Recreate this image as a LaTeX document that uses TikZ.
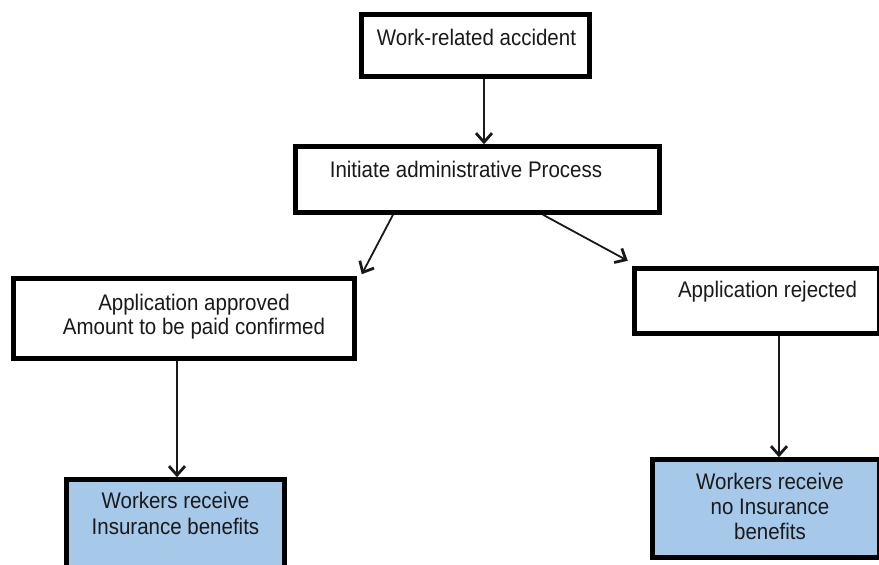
\documentclass[tikz,border=0pt]{standalone}
\usepackage{fontspec}
\setmainfont{Liberation Sans}
\usetikzlibrary{arrows.meta}
\definecolor{boxblue}{HTML}{A6C8E9}
\definecolor{txtgray}{HTML}{1A1A1A}
\newcommand{\tallt}[1]{\scalebox{1}[1.1]{#1}}
\tikzset{
  box/.style={draw=black, line width=4.5pt, fill=white, rectangle, inner sep=0pt},
  bluebox/.style={box, fill=boxblue},
  txt/.style={anchor=base, inner sep=0pt, text=txtgray, font=\fontsize{20.5}{24}\selectfont},
  arr/.style={draw=black!90, line width=1.8pt, -{Straight Barb[length=9pt,width=16pt,line width=2.8pt]}}
}
\begin{document}
\begin{tikzpicture}[x=1pt,y=-1pt]
\useasboundingbox (0,0) rectangle (879,565);
\fill[white] (0,0) rectangle (879,565);
% boxes
\node[box, minimum width=228pt, minimum height=62pt] (b1) at (475.5,45.5) {};
\node[box, minimum width=364pt, minimum height=66pt] (b2) at (477.5,179.5) {};
\node[box, minimum width=341pt, minimum height=80pt] (b3) at (184,318.5) {};
\node[box, minimum width=245pt, minimum height=65pt] (b4) at (757,301) {};
\node[bluebox, minimum width=218pt, minimum height=100pt] (b5) at (175.5,529.5) {};
\node[bluebox, minimum width=227pt, minimum height=98pt] (b6) at (766,508.5) {};
% texts
\node[txt] (t1) at (476.5,45.5) {\tallt{Work-related accident}};
\node[txt] (t2) at (466,177.5) {\tallt{Initiate administrative Process}};
\node[txt] (t3a) at (194,310) {\tallt{Application approved}};
\node[txt] (t3b) at (194,334) {\tallt{Amount to be paid confirmed}};
\node[txt] (t4) at (767.5,297.5) {\tallt{Application rejected}};
\node[txt] (t5a) at (175.5,508.5) {\tallt{Workers receive}};
\node[txt] (t5b) at (175.5,534) {\tallt{Insurance benefits}};
\node[txt] (t6a) at (770,489.5) {\tallt{Workers receive}};
\node[txt] (t6b) at (770,514.5) {\tallt{no Insurance}};
\node[txt] (t6c) at (770,539.5) {\tallt{benefits}};
% connectors
\draw[arr] ([xshift=8.5pt]b1.south) -- ([xshift=6.5pt]b2.north);
\draw[arr] ([xshift=-84.5pt]b2.south) -- ([xshift=5pt,yshift=2pt]b3.north east);
\draw[arr] ([xshift=65.5pt]b2.south) -- ([xshift=-4.5pt,yshift=5.5pt]b4.north west);
\draw[arr] ([xshift=-7pt]b3.south) -- ([xshift=1.5pt]b5.north);
\draw[arr] ([xshift=22pt]b4.south) -- ([xshift=13pt]b6.north);
\end{tikzpicture}
\end{document}
